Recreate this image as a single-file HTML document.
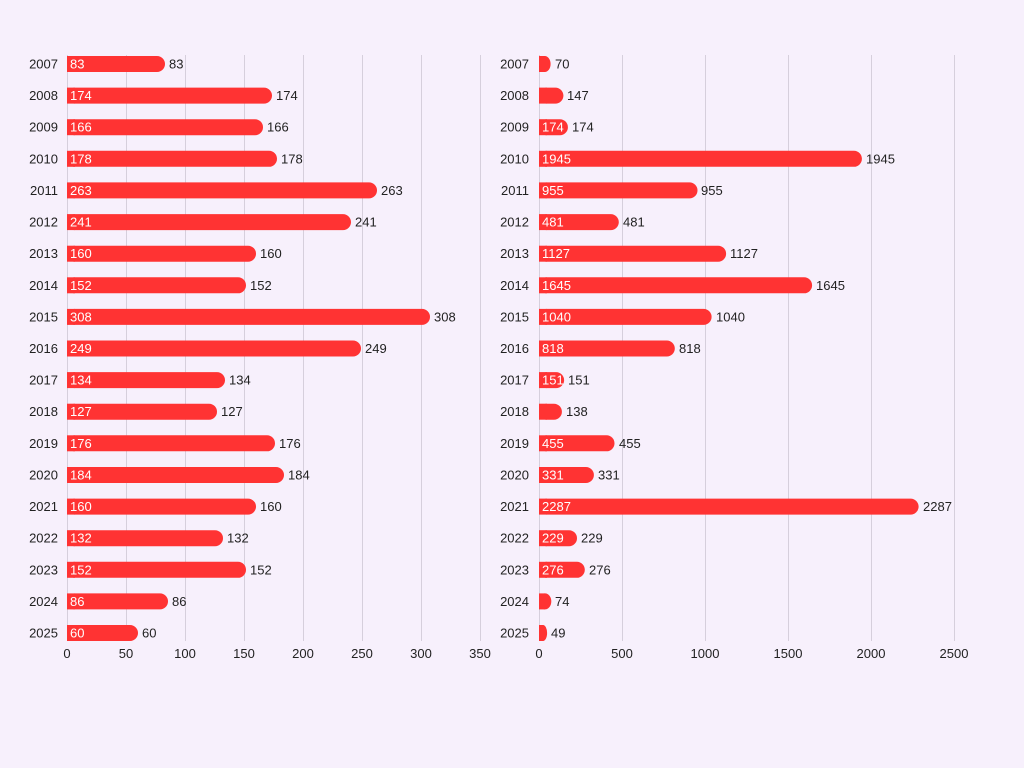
<!DOCTYPE html>
<html><head><meta charset="utf-8"><style>
body{margin:0;background:#f7f0fc}
svg{display:block;font-family:"Liberation Sans",sans-serif;font-size:13px}
.g{stroke:#d6cfdc;stroke-width:1}
.b{fill:#ff3333}
.i{fill:#fff}
.o{fill:#222}
.y{fill:#222;text-anchor:end}
.t{fill:#222;text-anchor:middle}
</style></head><body>
<svg width="1024" height="768" viewBox="0 0 1024 768">
<rect width="1024" height="768" fill="#f7f0fc"/>
<g class="g">
<line x1="67.5" y1="55" x2="67.5" y2="641"/><line x1="126.5" y1="55" x2="126.5" y2="641"/><line x1="185.5" y1="55" x2="185.5" y2="641"/><line x1="244.5" y1="55" x2="244.5" y2="641"/><line x1="303.5" y1="55" x2="303.5" y2="641"/><line x1="362.5" y1="55" x2="362.5" y2="641"/><line x1="421.5" y1="55" x2="421.5" y2="641"/><line x1="480.5" y1="55" x2="480.5" y2="641"/>
<line x1="539.5" y1="55" x2="539.5" y2="641"/><line x1="622.5" y1="55" x2="622.5" y2="641"/><line x1="705.5" y1="55" x2="705.5" y2="641"/><line x1="788.5" y1="55" x2="788.5" y2="641"/><line x1="871.5" y1="55" x2="871.5" y2="641"/><line x1="954.5" y1="55" x2="954.5" y2="641"/>
</g>
<g class="t">
<text x="67" y="658">0</text><text x="126" y="658">50</text><text x="185" y="658">100</text><text x="244" y="658">150</text><text x="303" y="658">200</text><text x="362" y="658">250</text><text x="421" y="658">300</text><text x="480" y="658">350</text>
<text x="539" y="658">0</text><text x="622" y="658">500</text><text x="705" y="658">1000</text><text x="788" y="658">1500</text><text x="871" y="658">2000</text><text x="954" y="658">2500</text>
</g>
<g class="y">
<text x="58" y="68.5">2007</text><text x="58" y="100.1">2008</text><text x="58" y="131.7">2009</text><text x="58" y="163.3">2010</text><text x="58" y="194.9">2011</text><text x="58" y="226.6">2012</text><text x="58" y="258.2">2013</text><text x="58" y="289.8">2014</text><text x="58" y="321.4">2015</text><text x="58" y="353">2016</text><text x="58" y="384.6">2017</text><text x="58" y="416.2">2018</text><text x="58" y="447.8">2019</text><text x="58" y="479.5">2020</text><text x="58" y="511.1">2021</text><text x="58" y="542.7">2022</text><text x="58" y="574.3">2023</text><text x="58" y="605.9">2024</text><text x="58" y="637.5">2025</text>
<text x="529" y="68.5">2007</text><text x="529" y="100.1">2008</text><text x="529" y="131.7">2009</text><text x="529" y="163.3">2010</text><text x="529" y="194.9">2011</text><text x="529" y="226.6">2012</text><text x="529" y="258.2">2013</text><text x="529" y="289.8">2014</text><text x="529" y="321.4">2015</text><text x="529" y="353">2016</text><text x="529" y="384.6">2017</text><text x="529" y="416.2">2018</text><text x="529" y="447.8">2019</text><text x="529" y="479.5">2020</text><text x="529" y="511.1">2021</text><text x="529" y="542.7">2022</text><text x="529" y="574.3">2023</text><text x="529" y="605.9">2024</text><text x="529" y="637.5">2025</text>
</g>
<g class="b">
<rect x="67" y="56" width="98" height="16" rx="8"/><rect x="67" y="87.6" width="205" height="16" rx="8"/><rect x="67" y="119.2" width="196" height="16" rx="8"/><rect x="67" y="150.8" width="210" height="16" rx="8"/><rect x="67" y="182.4" width="310" height="16" rx="8"/><rect x="67" y="214.1" width="284" height="16" rx="8"/><rect x="67" y="245.7" width="189" height="16" rx="8"/><rect x="67" y="277.3" width="179" height="16" rx="8"/><rect x="67" y="308.9" width="363" height="16" rx="8"/><rect x="67" y="340.5" width="294" height="16" rx="8"/><rect x="67" y="372.1" width="158" height="16" rx="8"/><rect x="67" y="403.7" width="150" height="16" rx="8"/><rect x="67" y="435.3" width="208" height="16" rx="8"/><rect x="67" y="467" width="217" height="16" rx="8"/><rect x="67" y="498.6" width="189" height="16" rx="8"/><rect x="67" y="530.2" width="156" height="16" rx="8"/><rect x="67" y="561.8" width="179" height="16" rx="8"/><rect x="67" y="593.4" width="101" height="16" rx="8"/><rect x="67" y="625" width="71" height="16" rx="8"/>
<rect x="67" y="56" width="8" height="16"/><rect x="67" y="87.6" width="8" height="16"/><rect x="67" y="119.2" width="8" height="16"/><rect x="67" y="150.8" width="8" height="16"/><rect x="67" y="182.4" width="8" height="16"/><rect x="67" y="214.1" width="8" height="16"/><rect x="67" y="245.7" width="8" height="16"/><rect x="67" y="277.3" width="8" height="16"/><rect x="67" y="308.9" width="8" height="16"/><rect x="67" y="340.5" width="8" height="16"/><rect x="67" y="372.1" width="8" height="16"/><rect x="67" y="403.7" width="8" height="16"/><rect x="67" y="435.3" width="8" height="16"/><rect x="67" y="467" width="8" height="16"/><rect x="67" y="498.6" width="8" height="16"/><rect x="67" y="530.2" width="8" height="16"/><rect x="67" y="561.8" width="8" height="16"/><rect x="67" y="593.4" width="8" height="16"/><rect x="67" y="625" width="8" height="16"/>
<rect x="539" y="56" width="11.6" height="16" rx="8"/><rect x="539" y="87.6" width="24.4" height="16" rx="8"/><rect x="539" y="119.2" width="28.9" height="16" rx="8"/><rect x="539" y="150.8" width="322.9" height="16" rx="8"/><rect x="539" y="182.4" width="158.5" height="16" rx="8"/><rect x="539" y="214.1" width="79.8" height="16" rx="8"/><rect x="539" y="245.7" width="187.1" height="16" rx="8"/><rect x="539" y="277.3" width="273.1" height="16" rx="8"/><rect x="539" y="308.9" width="172.6" height="16" rx="8"/><rect x="539" y="340.5" width="135.8" height="16" rx="8"/><rect x="539" y="372.1" width="25.1" height="16" rx="8"/><rect x="539" y="403.7" width="22.9" height="16" rx="8"/><rect x="539" y="435.3" width="75.5" height="16" rx="8"/><rect x="539" y="467" width="54.9" height="16" rx="8"/><rect x="539" y="498.6" width="379.6" height="16" rx="8"/><rect x="539" y="530.2" width="38" height="16" rx="8"/><rect x="539" y="561.8" width="45.8" height="16" rx="8"/><rect x="539" y="593.4" width="12.3" height="16" rx="8"/><rect x="539" y="625" width="8.1" height="16" rx="8"/>
<rect x="539" y="56" width="6" height="16"/><rect x="539" y="87.6" width="8" height="16"/><rect x="539" y="119.2" width="8" height="16"/><rect x="539" y="150.8" width="8" height="16"/><rect x="539" y="182.4" width="8" height="16"/><rect x="539" y="214.1" width="8" height="16"/><rect x="539" y="245.7" width="8" height="16"/><rect x="539" y="277.3" width="8" height="16"/><rect x="539" y="308.9" width="8" height="16"/><rect x="539" y="340.5" width="8" height="16"/><rect x="539" y="372.1" width="8" height="16"/><rect x="539" y="403.7" width="8" height="16"/><rect x="539" y="435.3" width="8" height="16"/><rect x="539" y="467" width="8" height="16"/><rect x="539" y="498.6" width="8" height="16"/><rect x="539" y="530.2" width="8" height="16"/><rect x="539" y="561.8" width="8" height="16"/><rect x="539" y="593.4" width="6" height="16"/><rect x="539" y="625" width="4" height="16"/>
</g>
<g class="i">
<text x="70" y="68.5">83</text><text x="70" y="100.1">174</text><text x="70" y="131.7">166</text><text x="70" y="163.3">178</text><text x="70" y="194.9">263</text><text x="70" y="226.6">241</text><text x="70" y="258.2">160</text><text x="70" y="289.8">152</text><text x="70" y="321.4">308</text><text x="70" y="353">249</text><text x="70" y="384.6">134</text><text x="70" y="416.2">127</text><text x="70" y="447.8">176</text><text x="70" y="479.5">184</text><text x="70" y="511.1">160</text><text x="70" y="542.7">132</text><text x="70" y="574.3">152</text><text x="70" y="605.9">86</text><text x="70" y="637.5">60</text>
<text x="542" y="131.7">174</text><text x="542" y="163.3">1945</text><text x="542" y="194.9">955</text><text x="542" y="226.6">481</text><text x="542" y="258.2">1127</text><text x="542" y="289.8">1645</text><text x="542" y="321.4">1040</text><text x="542" y="353">818</text><text x="542" y="384.6">151</text><text x="542" y="447.8">455</text><text x="542" y="479.5">331</text><text x="542" y="511.1">2287</text><text x="542" y="542.7">229</text><text x="542" y="574.3">276</text>
</g>
<g class="o">
<text x="169" y="68.5">83</text><text x="276" y="100.1">174</text><text x="267" y="131.7">166</text><text x="281" y="163.3">178</text><text x="381" y="194.9">263</text><text x="355" y="226.6">241</text><text x="260" y="258.2">160</text><text x="250" y="289.8">152</text><text x="434" y="321.4">308</text><text x="365" y="353">249</text><text x="229" y="384.6">134</text><text x="221" y="416.2">127</text><text x="279" y="447.8">176</text><text x="288" y="479.5">184</text><text x="260" y="511.1">160</text><text x="227" y="542.7">132</text><text x="250" y="574.3">152</text><text x="172" y="605.9">86</text><text x="142" y="637.5">60</text>
<text x="555" y="68.5">70</text><text x="567" y="100.1">147</text><text x="572" y="131.7">174</text><text x="866" y="163.3">1945</text><text x="701" y="194.9">955</text><text x="623" y="226.6">481</text><text x="730" y="258.2">1127</text><text x="816" y="289.8">1645</text><text x="716" y="321.4">1040</text><text x="679" y="353">818</text><text x="568" y="384.6">151</text><text x="566" y="416.2">138</text><text x="619" y="447.8">455</text><text x="598" y="479.5">331</text><text x="923" y="511.1">2287</text><text x="581" y="542.7">229</text><text x="589" y="574.3">276</text><text x="555" y="605.9">74</text><text x="551" y="637.5">49</text>
</g>
</svg>
</body></html>
